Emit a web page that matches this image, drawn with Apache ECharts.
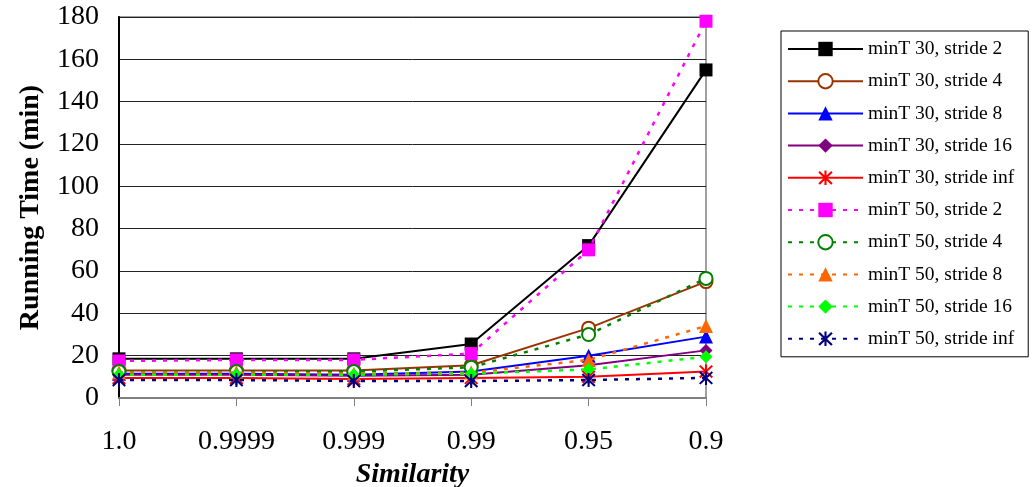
<!DOCTYPE html>
<html>
<head>
<meta charset="utf-8">
<script src="https://cdn.jsdelivr.net/npm/echarts@6/dist/echarts.min.js"></script>
<style>
html,body{margin:0;padding:0;background:#fff;}
#chart{width:1033px;height:487px;}
</style>
</head>
<body>
<div id="chart"></div>
<script>
// ---- data ----
const categories = ['1.0', '0.9999', '0.999', '0.99', '0.95', '0.9'];
const seriesNames = [
  'minT 30, stride 2', 'minT 30, stride 4', 'minT 30, stride 8', 'minT 30, stride 16', 'minT 30, stride inf',
  'minT 50, stride 2', 'minT 50, stride 4', 'minT 50, stride 8', 'minT 50, stride 16', 'minT 50, stride inf'
];
const minT30_stride2   = [18.5, 18.5, 18.5, 25.5, 72, 155];
const minT30_stride4   = [13, 13, 13, 15.5, 33, 55];
const minT30_stride8   = [11.5, 11.5, 11, 12.5, 20, 29];
const minT30_stride16  = [11, 11, 10.5, 11, 15.5, 22.5];
const minT30_strideInf = [9.5, 9.5, 9, 9.5, 10, 12.5];
const minT50_stride2   = [17.5, 18, 18, 21, 70, 178];
const minT50_stride4   = [12.5, 12.5, 12.5, 14.5, 30, 56.5];
const minT50_stride8   = [12, 12, 11.5, 12, 18, 34];
const minT50_stride16  = [11, 11, 11, 11.5, 13.5, 19.5];
const minT50_strideInf = [8.5, 8.5, 8, 8, 8.5, 9.5];
const yTicks = [0, 20, 40, 60, 80, 100, 120, 140, 160, 180];

const seriesData = [minT30_stride2, minT30_stride4, minT30_stride8, minT30_stride16, minT30_strideInf,
  minT50_stride2, minT50_stride4, minT50_stride8, minT50_stride16, minT50_strideInf];

// ---- styles ----
const colors = ['#000000', '#993300', '#0000FF', '#800080', '#FF0000',
                '#FF00FF', '#008000', '#FF6600', '#00FF00', '#000080'];
const asterisk = 'path://M8.6,0L11.4,0L11.4,20L8.6,20Z M0.5,2.5L2.5,0.5L19.5,17.5L17.5,19.5Z M17.5,0.5L19.5,2.5L2.5,19.5L0.5,17.5Z';
const symbols = ['rect', 'emptyCircle', 'triangle', 'diamond', asterisk,
                 'rect', 'emptyCircle', 'triangle', 'diamond', asterisk];
const symbolSizes = [13, 13, 14, 13, 14, 13, 13, 14, 13, 14];

const serif = 'Liberation Serif';

const series = seriesNames.map((name, i) => ({
  name: name,
  type: 'line',
  data: seriesData[i],
  symbol: symbols[i],
  symbolSize: symbolSizes[i],
  showAllSymbol: true,
  animation: false,
  color: colors[i],
  itemStyle: { color: colors[i], borderColor: colors[i], borderWidth: symbols[i] === 'emptyCircle' ? 2 : 0 },
  lineStyle: { color: colors[i], width: i >= 5 ? 2.5 : 2, type: i >= 5 ? [4, 7] : 'solid' },
  z: 2 + i
}));

const chart = echarts.init(document.getElementById('chart'), null, { renderer: 'canvas' });
chart.setOption({
  backgroundColor: '#ffffff',
  animation: false,
  grid: {
    left: 119, right: 327, top: 17, bottom: 89,
    containLabel: false,
    outerBoundsMode: 'none',
    show: true, borderColor: '#a0a0a0', borderWidth: 2, backgroundColor: 'transparent'
  },
  xAxis: {
    type: 'category',
    data: categories,
    boundaryGap: false,
    name: 'Similarity',
    nameLocation: 'middle',
    nameGap: 51,
    nameTextStyle: { fontFamily: serif, fontSize: 28, fontWeight: 'bold', fontStyle: 'italic', color: '#000' },
    axisLine: { lineStyle: { color: '#808080', width: 2 } },
    axisTick: { show: true, alignWithLabel: true, length: 8, lineStyle: { color: '#808080', width: 1 } },
    axisLabel: { fontFamily: serif, fontSize: 28, color: '#000', margin: 30 },
    splitLine: { show: false }
  },
  yAxis: {
    type: 'value',
    min: yTicks[0],
    max: yTicks[yTicks.length - 1],
    interval: yTicks[1] - yTicks[0],
    name: 'Running Time (min)',
    nameLocation: 'middle',
    nameGap: 74,
    nameTextStyle: { fontFamily: serif, fontSize: 28, fontWeight: 'bold', color: '#000' },
    axisLine: { show: true, lineStyle: { color: '#000', width: 2 } },
    axisTick: { show: false },
    axisLabel: { fontFamily: serif, fontSize: 28, color: '#000', margin: 20 },
    splitLine: { show: true, lineStyle: { color: '#222', width: 1 } }
  },
  legend: {
    orient: 'vertical',
    left: 781,
    top: 31,
    data: seriesNames,
    itemWidth: 75,
    itemHeight: 18,
    itemGap: 12.2,
    padding: [8, 14, 8, 6],
    borderColor: '#000',
    borderWidth: 1,
    backgroundColor: '#fff',
    textStyle: { fontFamily: serif, fontSize: 19.5, color: '#000', lineHeight: 19 },
    selectedMode: false
  },
  series: series
});
</script>
</body>
</html>
